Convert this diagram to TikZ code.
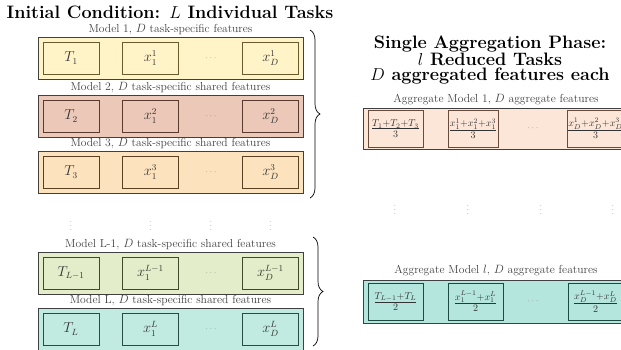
\documentclass[tikz,border=0pt]{standalone}
\usetikzlibrary{decorations.pathreplacing}
\definecolor{fA}{HTML}{FFF4C8}\definecolor{bA}{HTML}{6B5A2A}
\definecolor{fB}{HTML}{EBC8B8}\definecolor{bB}{HTML}{5A3A2E}
\definecolor{fC}{HTML}{FDE3BD}\definecolor{bC}{HTML}{5A4020}
\definecolor{fD}{HTML}{E3EDC9}\definecolor{bD}{HTML}{3F4A2A}
\definecolor{fE}{HTML}{C1EAE0}\definecolor{bE}{HTML}{2A4A44}
\definecolor{fF}{HTML}{FCE6D8}\definecolor{bF}{HTML}{6A4A3A}
\definecolor{fG}{HTML}{B4E6DE}\definecolor{bG}{HTML}{1E4A44}
\tikzset{
  outerbox/.style={draw=black!75,line width=1pt,rectangle,inner sep=0pt},
  innerbox/.style={draw=#1,line width=0.8pt,rectangle,inner sep=0pt,minimum height=32pt,minimum width=56pt,text=black!80,font=\fontsize{13.5}{16}\selectfont},
  aggbox/.style={draw=#1,line width=1pt,rectangle,inner sep=0pt,minimum height=37pt,minimum width=55pt,text=black!80,font=\fontsize{14}{16}\selectfont},
  lbl/.style={font=\fontsize{11.6}{13}\selectfont,text=black!75,inner sep=0pt},
  ttl/.style={font=\fontsize{18}{15}\selectfont\bfseries,inner sep=0pt,align=center},
  dotsn/.style={text=black!45,inner sep=0pt,font=\small},
  brc/.style={decorate,decoration={brace,amplitude=10pt},line width=0.7pt}
}
\begin{document}
\begin{tikzpicture}[x=1pt,y=-1pt]
\useasboundingbox (0,0) rectangle (621,349);
\clip (0,0) rectangle (621,349);
% Left title
\node[ttl] (lt) at (170,12) {Initial Condition: $L$ Individual Tasks};
% Left rows
\foreach \nm/\top/\fc/\bc/\lab/\tt/\sup in {
  r1/37/fA/bA/{Model 1, $D$ task-specific features}/{T_1}/{1},
  r2/95/fB/bB/{Model 2, $D$ task-specific shared features}/{T_2}/{2},
  r3/151/fC/bC/{Model 3, $D$ task-specific shared features}/{T_3}/{3},
  r4/252/fD/bD/{Model L-1, $D$ task-specific shared features}/{T_{L-1}}/{L-1},
  r5/308/fE/bE/{Model L, $D$ task-specific shared features}/{T_L}/{L}}{
  \node[outerbox,fill=\fc,minimum width=265pt,minimum height=42pt,anchor=north west] (\nm) at (38,\top) {};
  \node[lbl,anchor=base] (\nm l) at (170.5,\top-5) {\lab};
  \node[innerbox=\bc,fill=\fc] (\nm a) at (71,\top+21) {$\tt$};
  \node[innerbox=\bc,fill=\fc] (\nm b) at (150.5,\top+21) {$x_1^{\sup}$};
  \node[dotsn] (\nm c) at (211,\top+21) {$\cdots$};
  \node[innerbox=\bc,fill=\fc] (\nm d) at (270.5,\top+21) {$x_D^{\sup}$};
}
% vertical dots left
\foreach \x/\n in {71/a,150.5/b,211/c,270.5/d}{
  \node[dotsn] (lv\n) at (\x,223) {$\vdots$};
}
% braces
\coordinate (bt1) at (310,30);
\coordinate (bb1) at (310,198);
\coordinate (bt2) at (313,237);
\coordinate (bb2) at (313,346);
\draw[brc] (bt1) -- (bb1);
\draw[brc] (bt2) -- (bb2);
% Right title
\node[ttl] (rt) at (490,60) {Single Aggregation Phase:\\ $l$ Reduced Tasks\\ $D$ aggregated features each};
% Right rows
\node[outerbox,fill=fF,minimum width=270pt,minimum height=41pt,anchor=north west] (g1) at (363,108) {};
\node[lbl,anchor=base] (g1l) at (496,102) {Aggregate Model 1, $D$ aggregate features};
\node[aggbox=bF,fill=fF] (g1a) at (395.5,128.5) {$\frac{T_1+T_2+T_3}{3}$};
\node[aggbox=bF,fill=fF,minimum width=50pt] (g1b) at (473,128.5) {$\frac{x_1^1+x_1^2+x_1^3}{3}$};
\node[dotsn] (g1c) at (533,128.5) {$\cdots$};
\node[aggbox=bF,fill=fF] (g1d) at (595.5,128.5) {$\frac{x_D^1+x_D^2+x_D^3}{3}$};
\foreach \x/\n in {395/a,468/b,541/c,613/d}{
  \node[dotsn] (rv\n) at (\x,207) {$\vdots$};
}
\node[outerbox,fill=fG,minimum width=270pt,minimum height=43pt,anchor=north west] (g2) at (363,280) {};
\node[lbl,anchor=base] (g2l) at (496,273) {Aggregate Model $l$, $D$ aggregate features};
\node[aggbox=bG,fill=fG] (g2a) at (395.5,301.5) {$\frac{T_{L-1}+T_L}{2}$};
\node[aggbox=bG,fill=fG] (g2b) at (475.5,301.5) {$\frac{x_1^{L-1}+x_1^L}{2}$};
\node[dotsn] (g2c) at (533,301.5) {$\cdots$};
\node[aggbox=bG,fill=fG] (g2d) at (595.5,301.5) {$\frac{x_D^{L-1}+x_D^L}{2}$};
\end{tikzpicture}
\end{document}
